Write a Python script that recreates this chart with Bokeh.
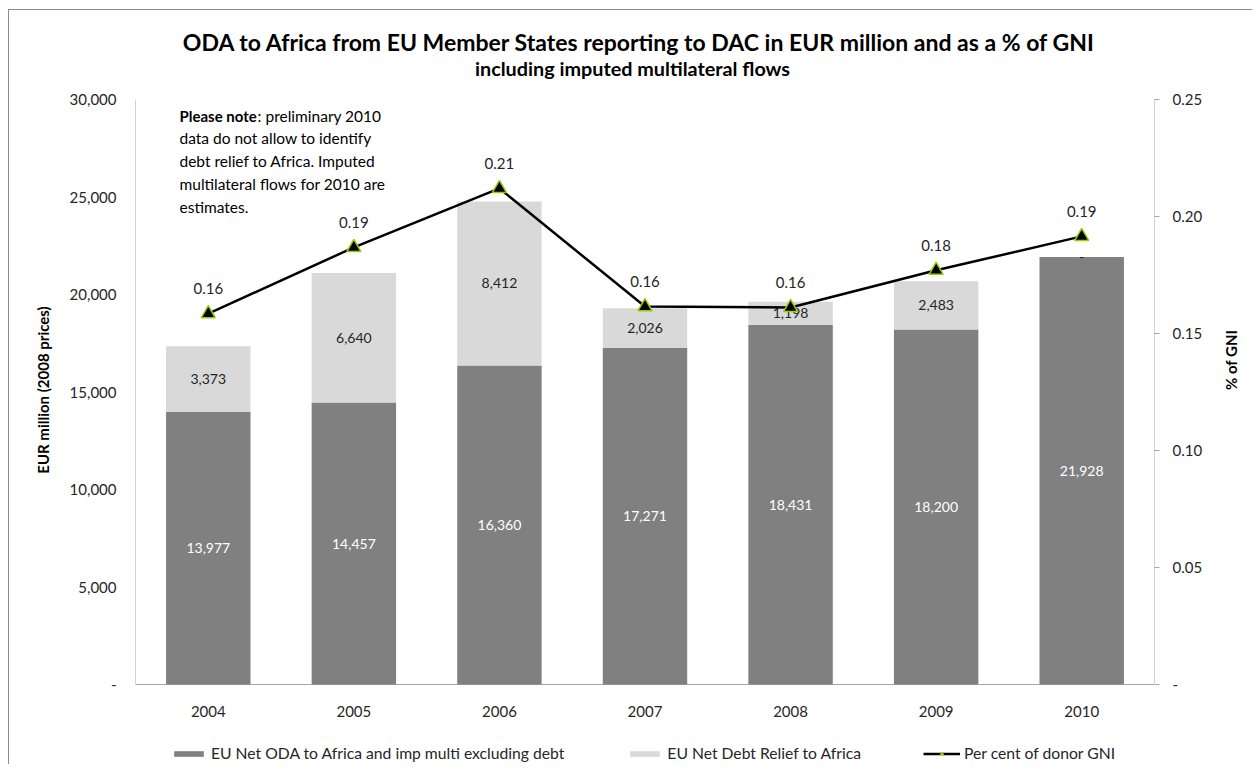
import math
from bokeh.plotting import figure
from bokeh.models import (Range1d, LinearAxis, FixedTicker, Label, Legend, LegendItem,
                          ColumnDataSource, NumeralTickFormatter)
from bokeh.embed import file_html
from bokeh.resources import INLINE
from bokeh.core.properties import value

# ---------------- data ----------------
years = ["2004", "2005", "2006", "2007", "2008", "2009", "2010"]
oda_excl_debt = [13977, 14457, 16360, 17271, 18431, 18200, 21928]
debt_relief = [3373, 6640, 8412, 2026, 1198, 2483, 0]
pct_gni = [0.1585, 0.1868, 0.2120, 0.1615, 0.1611, 0.1770, 0.1915]
left_ticks = [0, 5000, 10000, 15000, 20000, 25000, 30000]
right_ticks = [0, 0.05, 0.10, 0.15, 0.20, 0.25]
series_names = ["EU Net ODA to Africa and imp multi excluding debt",
                "EU Net Debt Relief to Africa",
                "Per cent of donor GNI"]
title_text = "ODA to Africa from EU Member States reporting to DAC in EUR million and as a % of GNI"
subtitle_text = "including imputed multilateral flows"
left_label = "EUR million (2008 prices)"
right_label = "% of GNI"
note_bold = "Please note"
note_colon = ":"
note_lines = ["preliminary 2010",
              "data do not allow to identify",
              "debt relief to Africa.  Imputed",
              "multilateral flows for 2010 are",
              "estimates."]

FONT = "Lato"
DARK = "#808080"
LIGHT = "#d9d9d9"
TXT = "#262626"
AX = "#a6a6a6"

# layout (page pixels): frame top 15, top tick 99, value zero 684, frame bottom 764
Y_MAX, PCT_MAX = 30000, 0.25
PX_FTOP, PX_TOP, PX_ZERO, PX_BOTTOM = 15, 99, 684, 764
below = (PX_BOTTOM - PX_ZERO) / (PX_ZERO - PX_TOP)
above = (PX_ZERO - PX_FTOP) / (PX_ZERO - PX_TOP)

idx = list(range(len(years)))
tops = [a + b for a, b in zip(oda_excl_debt, debt_relief)]
src = ColumnDataSource(dict(
    x=idx,
    oda=oda_excl_debt,
    top=tops,
    oda_mid=[v / 2 for v in oda_excl_debt],
    debt_mid=[a + b / 2 for a, b in zip(oda_excl_debt, debt_relief)],
    oda_lbl=[f"{v:,}" if v else "-" for v in oda_excl_debt],
    debt_lbl=[f"{v:,}" if v else "-" for v in debt_relief],
    pct=pct_gni,
    pct_lbl=[f"{v:.2f}" for v in pct_gni],
    year=years,
    zero=[0] * len(years),
))

x0, x1 = -0.5, len(years) - 0.5
p = figure(width=1244, height=755, x_range=Range1d(x0, x1),
           y_range=Range1d(-Y_MAX * below, Y_MAX * above), x_axis_type=None,
           output_backend="svg", toolbar_location=None, title=None,
           min_border_left=126, min_border_right=99, min_border_top=5, min_border_bottom=1)
p.extra_y_ranges = {"pct": Range1d(-PCT_MAX * below, PCT_MAX * above)}
p.ygrid.visible = False
p.outline_line_color = None
p.background_fill_color = "white"
p.border_fill_color = "white"
p.styles = {"border-left": "1px solid #8c8c8c", "border-top": "1px solid #8c8c8c",
            "margin-left": "8px", "margin-top": "9px"}

# axis lines (value axes stop at zero, category axis at zero)
p.segment(x0=[x0, x1, x0], y0=[0, 0, 0], x1=[x0, x1, x1], y1=[Y_MAX, Y_MAX, 0],
          line_color=AX, line_width=1)

# bars
r_dark = p.vbar(x="x", top="oda", bottom=0, width=0.58, source=src,
                fill_color=DARK, line_color=None)
r_light = p.vbar(x="x", bottom="oda", top="top", width=0.58, source=src,
                 fill_color=LIGHT, line_color=None)

# bar labels
p.text(x="x", y="oda_mid", text="oda_lbl", source=src, text_align="center",
       text_baseline="middle", text_color="white", text_font=value(FONT),
       text_font_size="14px")
p.text(x="x", y="debt_mid", text="debt_lbl", source=src, text_align="center",
       text_baseline="middle", text_color=TXT, text_font=value(FONT),
       text_font_size="14px")

# category labels under the zero line
p.text(x="x", y="zero", text="year", source=src, text_align="center",
       text_baseline="middle", y_offset=27, text_color=TXT, text_font=value(FONT),
       text_font_size="15px")

# line
r_line = p.line(x="x", y="pct", source=src, y_range_name="pct", line_color="black",
                line_width=2.5)
r_mark = p.scatter(x="x", y="pct", source=src, y_range_name="pct", marker="triangle",
                   size=14, fill_color="black", line_color="#9acd00", line_width=1.5)
p.text(x="x", y="pct", text="pct_lbl", source=src, y_range_name="pct",
       text_align="center", text_baseline="middle", y_offset=-25, text_color=TXT,
       text_font=value(FONT), text_font_size="15px")

# axes
ly = p.yaxis[0]
ly.ticker = FixedTicker(ticks=left_ticks)
ly.formatter = NumeralTickFormatter(format="0,0")
ly.major_label_overrides = {0: "-"}
ly.axis_label = left_label
ly.axis_label_text_font = FONT
ly.axis_label_text_font_style = "bold"
ly.axis_label_text_font_size = "15px"
ly.axis_label_text_color = "black"
ly.axis_label_standoff = 15
ly.major_tick_line_color = None
ly.minor_tick_line_color = None
ly.major_tick_out = 0
ly.axis_line_color = None
ly.major_label_standoff = 19
ly.major_label_text_font = FONT
ly.major_label_text_font_size = "15px"
ly.major_label_text_color = TXT

ry = LinearAxis(y_range_name="pct", ticker=FixedTicker(ticks=right_ticks),
                formatter=NumeralTickFormatter(format="0.00"))
ry.major_label_overrides = {0: "-"}
ry.major_tick_out = 5
ry.major_tick_in = 0
ry.major_tick_line_color = AX
ry.minor_tick_line_color = None
ry.axis_line_color = None
ry.major_label_standoff = 13
ry.major_label_text_font = FONT
ry.major_label_text_font_size = "15px"
ry.major_label_text_color = TXT
ry.axis_label = right_label
ry.axis_label_text_font = FONT
ry.axis_label_text_font_style = "bold"
ry.axis_label_text_font_size = "15px"
ry.axis_label_text_color = "black"
ry.axis_label_text_align = "center"
ry.axis_label_text_baseline = "middle"
ry.axis_label_standoff = 26
try:
    ry.axis_label_orientation = math.pi / 2
except Exception:
    pass
p.add_layout(ry, "right")


def px2x(px):
    return (px - 135) / 1019 * 7 - 0.5


def py2y(py):
    return (PX_ZERO - py) / (PX_ZERO - PX_TOP) * Y_MAX


# titles
p.add_layout(Label(x=px2x(639), y=py2y(41), text=title_text, text_align="center",
                   text_baseline="middle", text_font=FONT, text_font_style="bold",
                   text_font_size="23px", text_color="black"))
p.add_layout(Label(x=px2x(632), y=py2y(67), text=subtitle_text, text_align="center",
                   text_baseline="middle", text_font=FONT, text_font_style="bold",
                   text_font_size="19.8px", text_color="black"))

# note
baselines = [115, 137.5, 160.5, 183.5, 206]
p.add_layout(Label(x=px2x(179), y=py2y(baselines[0]), text=note_bold,
                   text_baseline="alphabetic", text_font=FONT, text_font_style="bold",
                   text_font_size="15px", text_color="black"))
p.add_layout(Label(x=px2x(179), y=py2y(baselines[0]), text=note_colon, x_offset=78,
                   text_baseline="alphabetic", text_font=FONT,
                   text_font_size="15.5px", text_color="black"))
for i, line in enumerate(note_lines):
    p.add_layout(Label(x=px2x(179), y=py2y(baselines[i]), text=line,
                       x_offset=(86 if i == 0 else 0),
                       text_baseline="alphabetic", text_font=FONT,
                       text_font_size="15.5px", text_color="black"))

# legend (inside the extended plot area, below the category labels)
legend = Legend(items=[LegendItem(label=series_names[0], renderers=[r_dark]),
                       LegendItem(label=series_names[1], renderers=[r_light]),
                       LegendItem(label=series_names[2], renderers=[r_line, r_mark])],
                location=(35, 1), orientation="horizontal", glyph_width=37,
                glyph_height=7, label_standoff=4, spacing=62, padding=0, margin=0,
                border_line_color=None, background_fill_alpha=0,
                label_text_font=FONT, label_text_font_size="15.7px",
                label_text_color=TXT, label_height=20)
p.add_layout(legend)

open("out.html", "w").write(file_html(p, INLINE))
